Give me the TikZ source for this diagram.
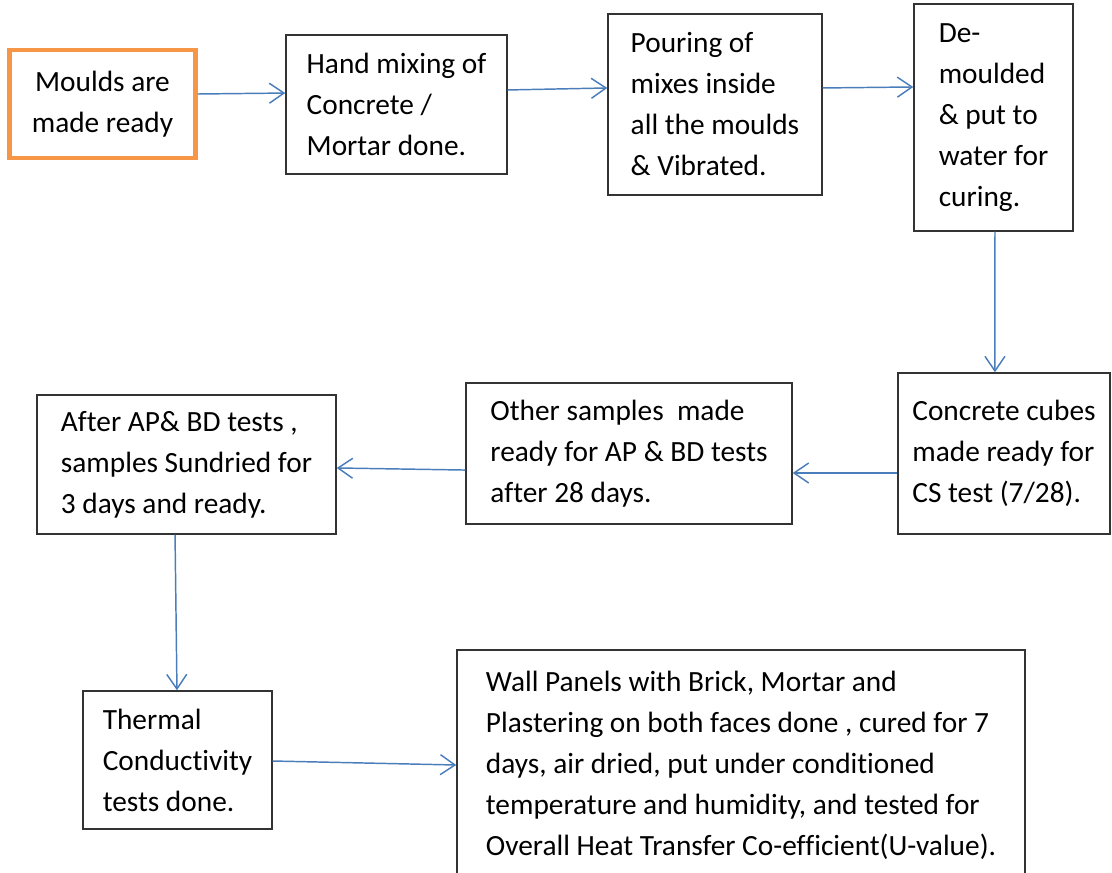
\documentclass[tikz,border=0pt]{standalone}
\usepackage{fontspec}
\setmainfont{Carlito}[Ligatures=NoCommon]
\usepackage{xcolor}
\usepackage{tikz}
\usetikzlibrary{arrows.meta}

\definecolor{flowblue}{HTML}{4A7EBB}
\definecolor{startorange}{HTML}{F79646}

\tikzset{
  stage/.style={draw=black!80, line width=1.1pt, align=left, inner xsep=4pt,
    font=\fontsize{22pt}{30.75pt}\selectfont},
  startstage/.style={stage, draw=startorange, line width=3.2pt, align=center},
  flow/.style={flowblue, line width=1.1pt, -{Straight Barb[length=11pt,width=15pt,line width=1.1pt]}}
}

\begin{document}
\begin{tikzpicture}[x=0.75pt,y=-0.75pt]
\useasboundingbox (0,0) rectangle (1112,872);

% top row
\node[startstage, minimum width=139.5pt, minimum height=81pt] (mould) at (102.5,104) {Moulds are\\made ready};
\node[stage, minimum width=165.75pt, minimum height=104.25pt] (mix) at (396.5,104.5) {Hand mixing of\\Concrete /\\Mortar done.};
\node[stage, minimum width=160.5pt, minimum height=135.75pt] (pour) at (715,104.5) {Pouring of\\mixes inside\\all the moulds\\\& Vibrated.};
\node[stage, minimum width=119.25pt, minimum height=170.25pt] (demould) at (993.5,117.5) {De-\\moulded\\\& put to\\water for\\curing.};

% middle row
\node[stage, minimum width=159pt, minimum height=120.75pt] (cubes) at (1004,453.5) {Concrete cubes\\made ready for\\CS test (7/28).};
\node[stage, minimum width=244.5pt, minimum height=105.75pt] (other) at (629,453.5) {Other samples~ made\\ready for AP \& BD tests\\after 28 days.};
\node[stage, minimum width=224.25pt, minimum height=104.25pt] (sundry) at (186.5,464.5) {After AP\& BD tests ,\\samples Sundried for\\3 days and ready.};

% bottom row
\node[stage, minimum width=141.75pt, minimum height=103.5pt] (thermal) at (177.5,760) {Thermal\\Conductivity\\tests done.};
\node[stage, minimum width=426pt, minimum height=172.5pt] (panel) at (741,765) {Wall Panels with Brick, Mortar and\\Plastering on both faces done , cured for 7\\days, air dried, put under conditioned\\temperature and humidity, and tested for\\Overall Heat Transfer Co-efficient(U-value).};

% connectors
\draw[flow] ([yshift=7.5pt]mould.east) -- ([yshift=8.6pt]mix.west);
\draw[flow] ([yshift=10.9pt]mix.east) -- ([yshift=12.4pt]pour.west);
\draw[flow] ([yshift=12.4pt]pour.east) -- ([yshift=22.9pt]demould.west);
\draw[flow] ([xshift=1.1pt]demould.south) -- ([xshift=-6.8pt]cubes.north);
\draw[flow] ([yshift=-14.6pt]cubes.west) -- ([yshift=-14.6pt]other.east);
\draw[flow] ([yshift=-12.4pt]other.west) -- ([yshift=-2.6pt]sundry.east);
\draw[flow] ([xshift=-8.6pt]sundry.south) -- ([xshift=-0.4pt]thermal.north);
\draw[flow] ([yshift=-0.75pt]thermal.east) -- (panel.west);
\end{tikzpicture}
\end{document}
